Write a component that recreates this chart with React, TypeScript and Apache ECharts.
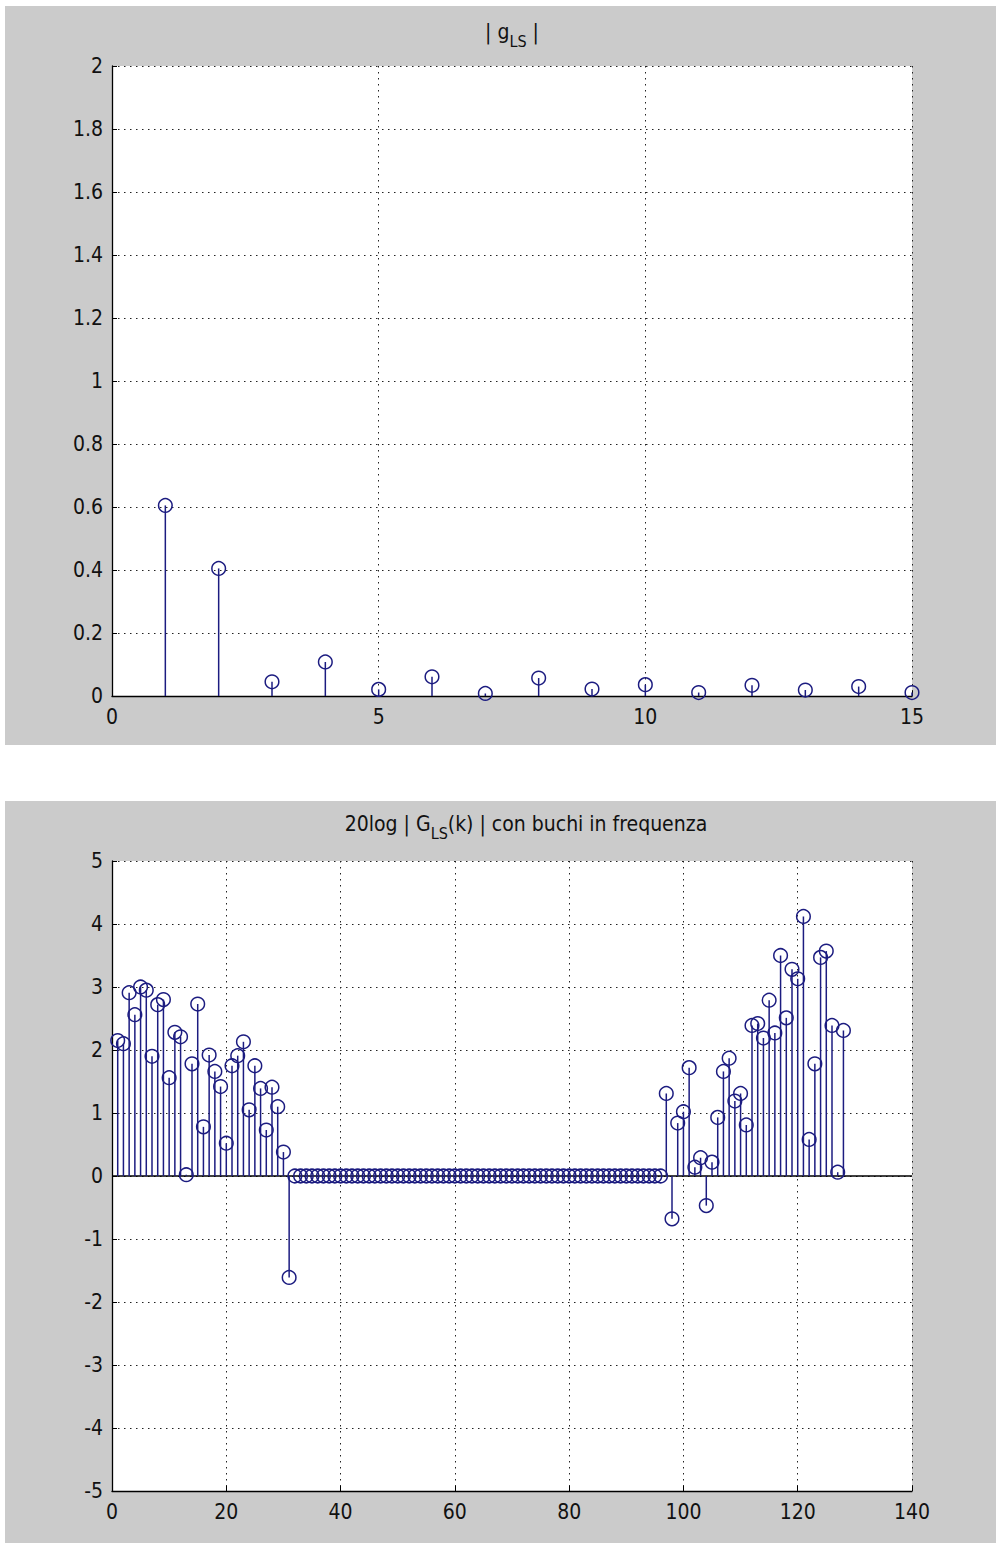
import React, { useEffect, useRef } from 'react';
import * as echarts from 'echarts';

// ---------- data ----------
const topK = [1, 2, 3, 4, 5, 6, 7, 8, 9, 10, 11, 12, 13, 14, 15];
const topValues = [0.605, 0.405, 0.045, 0.108, 0.021, 0.061, 0.008, 0.057, 0.022, 0.036, 0.011, 0.034, 0.019, 0.03, 0.011];

const bottomValues = [
  // k = 1..31
  2.15, 2.1, 2.91, 2.56, 3.0, 2.95, 1.9, 2.72, 2.8, 1.56,
  2.28, 2.21, 0.02, 1.78, 2.73, 0.78, 1.92, 1.66, 1.42, 0.52,
  1.75, 1.91, 2.13, 1.05, 1.75, 1.39, 0.73, 1.41, 1.1, 0.38,
  -1.61,
  // k = 32..96
  0, 0, 0, 0, 0, 0, 0, 0, 0, 0, 0, 0, 0,
  0, 0, 0, 0, 0, 0, 0, 0, 0, 0, 0, 0, 0,
  0, 0, 0, 0, 0, 0, 0, 0, 0, 0, 0, 0, 0,
  0, 0, 0, 0, 0, 0, 0, 0, 0, 0, 0, 0, 0,
  0, 0, 0, 0, 0, 0, 0, 0, 0, 0, 0, 0, 0,
  // k = 97..128
  1.31, -0.68, 0.84, 1.02, 1.72, 0.14, 0.29, -0.47, 0.22, 0.93,
  1.66, 1.87, 1.19, 1.31, 0.81, 2.39, 2.42, 2.19, 2.79, 2.27,
  3.5, 2.51, 3.28, 3.13, 4.12, 0.58, 1.78, 3.47, 3.57, 2.39,
  0.06, 2.31,
];
const bottomK = bottomValues.map((_, i) => i + 1);

const topXRange = [0, 15, 5];
const topYRange = [0, 2, 0.2];
const bottomXRange = [0, 140, 20];
const bottomYRange = [-5, 5, 1];

const TOP_TITLE = '| g{sub|LS} |';
const BOTTOM_TITLE = '20log | G{sub|LS}(k) | con buchi in frequenza';

// ---------- styles ----------
const FONT = '"Liberation Sans Narrow", "DejaVu Sans Condensed", "Liberation Sans", Arial, sans-serif';
const STEM = '#1c1c80';
const PANEL = '#cbcbcb';

function stemRenderer(params: any, api: any) {
  const x = api.value(0);
  const y = api.value(1);
  const p0 = api.coord([x, 0]);
  const p1 = api.coord([x, y]);
  return {
    type: 'group',
    children: [
      {
        type: 'line',
        shape: { x1: p0[0], y1: p0[1], x2: p1[0], y2: p1[1] },
        style: { stroke: STEM, lineWidth: 1.5 },
      },
      {
        type: 'circle',
        shape: { cx: p1[0], cy: p1[1], r: 6.8 },
        style: { fill: 'none', stroke: STEM, lineWidth: 1.5 },
      },
    ],
  };
}

function xAxisCfg(gridIndex: number, r: number[]) {
  return {
    gridIndex,
    type: 'value',
    min: r[0],
    max: r[1],
    interval: r[2],
    axisLine: { show: true, onZero: false, lineStyle: { color: '#000', width: 1.3 } },
    axisTick: { show: true, inside: true, length: 5, lineStyle: { color: '#000' } },
    axisLabel: { fontFamily: FONT, fontSize: 21, color: '#111', margin: 10 },
    splitLine: { show: true, lineStyle: { color: '#222', type: [1.5, 4.5], width: 1 } },
  };
}

function yAxisCfg(gridIndex: number, r: number[]) {
  return {
    gridIndex,
    type: 'value',
    min: r[0],
    max: r[1],
    interval: r[2],
    axisLine: { show: true, onZero: false, lineStyle: { color: '#000', width: 1.3 } },
    axisTick: { show: true, inside: true, length: 5, lineStyle: { color: '#000' } },
    axisLabel: { fontFamily: FONT, fontSize: 21, color: '#111', margin: 9 },
    splitLine: { show: true, lineStyle: { color: '#222', type: [1.5, 4.5], width: 1 } },
  };
}

export default function App() {
  const ref = useRef<HTMLDivElement>(null);

  useEffect(() => {
    if (!ref.current) return;
    const chart = echarts.init(ref.current, undefined, { renderer: 'svg' });
    const richTitle = {
      sub: { fontFamily: FONT, fontSize: 16, fill: '#111', padding: [12, 0, 0, 0], verticalAlign: 'top', lineHeight: 22 },
    };
    chart.setOption({
      animation: false,
      backgroundColor: '#fff',
      graphic: [
        { type: 'rect', z: -100, silent: true, shape: { x: 5, y: 6, width: 991, height: 739 }, style: { fill: PANEL } },
        { type: 'rect', z: -100, silent: true, shape: { x: 5, y: 801, width: 991, height: 742 }, style: { fill: PANEL } },
        {
          type: 'text', x: 512, y: 21, z: 10,
          style: { text: TOP_TITLE, fontFamily: FONT, fontSize: 21, fill: '#111', align: 'center', verticalAlign: 'top', rich: richTitle },
        },
        {
          type: 'text', x: 526, y: 813, z: 10,
          style: { text: BOTTOM_TITLE, fontFamily: FONT, fontSize: 21, fill: '#111', align: 'center', verticalAlign: 'top', rich: richTitle },
        },
      ],
      grid: [
        { left: 112, top: 66, width: 800, height: 630, show: true, backgroundColor: '#fff', borderWidth: 0 },
        { left: 112, top: 861, width: 800, height: 630, show: true, backgroundColor: '#fff', borderWidth: 0 },
      ],
      xAxis: [xAxisCfg(0, topXRange), xAxisCfg(1, bottomXRange)],
      yAxis: [yAxisCfg(0, topYRange), yAxisCfg(1, bottomYRange)],
      series: [
        {
          type: 'custom',
          xAxisIndex: 0,
          yAxisIndex: 0,
          renderItem: stemRenderer,
          data: topK.map((k, i) => [k, topValues[i]]),
          z: 5,
        },
        {
          type: 'line',
          xAxisIndex: 1,
          yAxisIndex: 1,
          data: [[bottomXRange[0], 0], [bottomXRange[1], 0]],
          symbol: 'none',
          lineStyle: { color: '#000', width: 1.3 },
          z: 3,
          silent: true,
        },
        {
          type: 'custom',
          xAxisIndex: 1,
          yAxisIndex: 1,
          renderItem: stemRenderer,
          data: bottomK.map((k, i) => [k, bottomValues[i]]),
          z: 5,
        },
      ],
    });
    return () => chart.dispose();
  }, []);

  return (
    <div
      ref={ref}
      style={{ position: 'absolute', left: 0, top: 0, width: 996, height: 1543 }}
    />
  );
}
